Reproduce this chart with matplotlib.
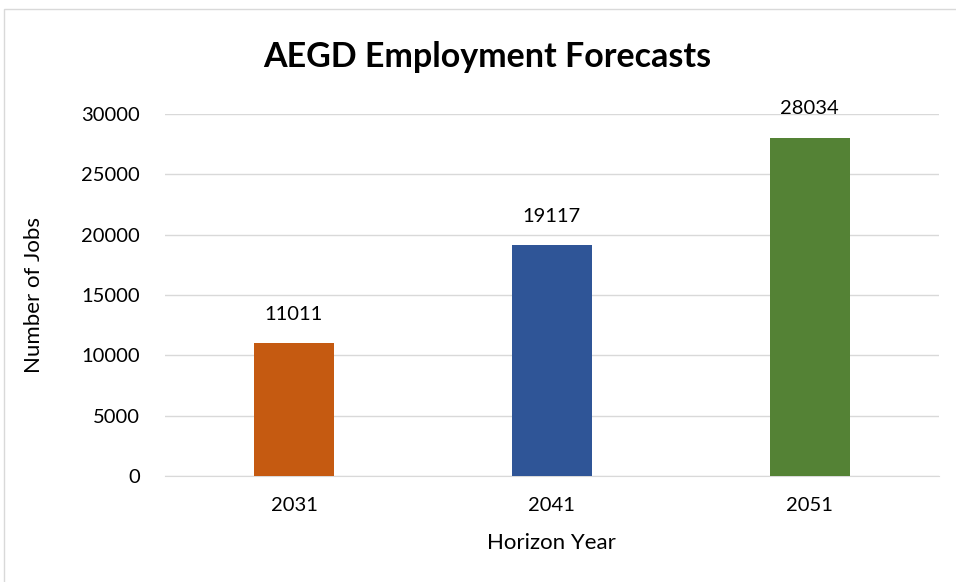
import matplotlib
matplotlib.use('Agg')
import matplotlib.pyplot as plt
from matplotlib.patches import Rectangle

years = ['2031', '2041', '2051']
jobs = [11011, 19117, 28034]
colors = ['#C55A11', '#2F5597', '#548235']
yticks = [0, 5000, 10000, 15000, 20000, 25000, 30000]

plt.rcParams['font.family'] = ['Lato', 'DejaVu Sans']

fig = plt.figure(figsize=(9.56, 5.82), dpi=100)
ax = fig.add_axes([0.1726, 0.182, 0.8094, 0.622])

x = range(len(years))
bars = ax.bar(x, jobs, width=0.31, color=colors, zorder=3)
for b, v in zip(bars, jobs):
    ax.text(b.get_x() + b.get_width() / 2, v + 1700, str(v),
            ha='center', va='bottom', fontsize=14.5)

ax.set_xlim(-0.5, 2.5)
ax.set_ylim(0, 30000)
ax.set_xticks(list(x))
ax.set_xticklabels(years, fontsize=14.5)
ax.set_yticks(yticks)
ax.set_yticklabels([str(t) for t in yticks], fontsize=14.5)
ax.tick_params(axis='y', length=0, pad=18)
ax.tick_params(axis='x', length=0, pad=15)
ax.grid(axis='y', color='#D9D9D9', linewidth=1, zorder=0)
for s in ['top', 'right', 'left']:
    ax.spines[s].set_visible(False)
ax.spines['bottom'].set_color('#D9D9D9')

ax.set_xlabel('Horizon Year', fontsize=16, labelpad=14)
ax.set_ylabel('Number of Jobs', fontsize=16, labelpad=27)
fig.text(0.51, 0.902, 'AEGD Employment Forecasts', ha='center', va='center',
         fontsize=24.5, fontweight='bold')

fig.patches.append(Rectangle((4 / 956, -0.1), 2, (582 - 9) / 582 + 0.1,
                             transform=fig.transFigure, fill=False,
                             edgecolor='#D9D9D9', linewidth=1))

fig.savefig('out.png', dpi=100)
